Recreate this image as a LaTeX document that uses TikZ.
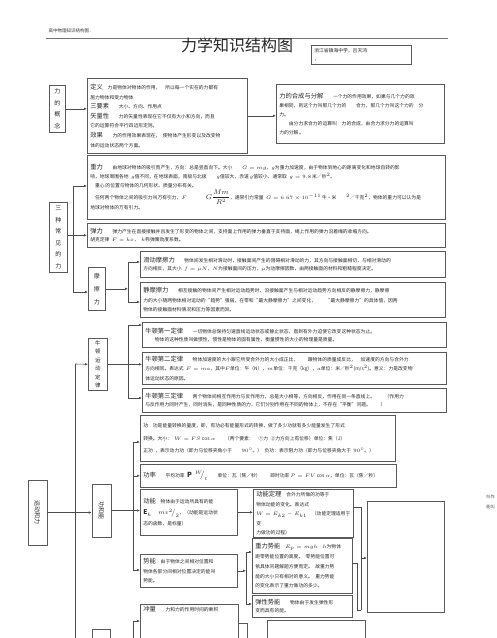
\documentclass[tikz,border=0pt]{standalone}
\usepackage{amsmath}
\usepackage{fontspec}
\setmainfont{Noto Sans CJK SC}
\usepackage{tikz}
\usetikzlibrary{arrows.meta, positioning}
\XeTeXlinebreaklocale "zh"
\XeTeXlinebreakskip = 0pt plus 1pt
\newcommand{\biaoti}[1]{{\fontsize{6.3}{8}\selectfont #1}}

\begin{document}
\begin{tikzpicture}[x=1pt, y=-1pt, >={Latex[length=3pt,width=2.6pt]},
    kuang/.style={draw=black!65, line width=0.6pt, anchor=north west, inner xsep=3pt, inner ysep=2pt,
                  align=left, text=black!85, font=\fontsize{4.8}{8}\selectfont},
    shukuang/.style={draw=black!65, line width=0.6pt, anchor=north west, inner sep=0pt,
                  align=center, text=black!85, font=\fontsize{6}{11.5}\selectfont},
    lianxian/.style={draw=black!70, line width=0.6pt}]
    \useasboundingbox (0,0) rectangle (496,638);

    % Header
    \node[anchor=west, text=black!80, font=\fontsize{4.5}{5}\selectfont] (yemei) at (45,31) {高中物理知识结构图．};
    \draw[black!55, line width=0.5pt] (46,38) -- (448,38);
    \node[text=black!85, font=\fontsize{16}{18}\selectfont] (biaoti) at (237,45) {力学知识结构图};
    \node[kuang, minimum width=100pt, minimum height=19pt, text width=94pt] (zuozhe) at (311,45) {浙江省镇海中学，吕天鸿\\，};

    % 力的概念
    \node[shukuang, minimum width=16pt, minimum height=47pt] (gainian) at (49,85) {力\\的\\概\\念};
    \node[kuang, minimum width=160pt, minimum height=75pt, text width=154pt, font=\fontsize{4.8}{9.6}\selectfont] (dingyi) at (87,78)
        {\biaoti{定义}\quad 力是物体对物体的作用，\quad 所以每一个实在的力都有\\
         施力物体和受力物体\\
         \biaoti{三要素}\qquad 大小、方向、作用点\\
         \biaoti{矢量性}\qquad 力的矢量性表现在它不仅有大小和方向，而且\\
         它的运算符合平行四边形定则。\\
         \biaoti{效果}\qquad 力的作用效果表现在，\enspace 使物体产生形变以及改变物\\
         体的运动状态两个方面。};
    \node[kuang, minimum width=168pt, minimum height=59pt, text width=162pt, font=\fontsize{4.8}{9}\selectfont] (hecheng) at (276,84)
        {\biaoti{力的合成与分解}\qquad 一个力的作用效果，如果与几个力的效\\
         果相同，则这个力叫那几个力的\qquad 合力，那几个力叫这个力的\quad 分\\
         力。\\
         \qquad 由分力求合力的运算叫\quad 力的合成，由合力求分力的运算叫\\
         力的分解\,。};

    % 三种常见的力
    \node[shukuang, minimum width=18pt, minimum height=70pt] (sanzhong) at (49,202) {三\\种\\常\\见\\的\\力};
    \node[kuang, minimum width=358pt, minimum height=64pt, text width=352pt, font=\fontsize{4.8}{9}\selectfont] (zhongli) at (87,155)
        {\biaoti{重力}\qquad 由地球对物体的吸引而产生，方向：总是竖直向下。大小\qquad $G=mg$，$g$为重力加速度，由于物体到地心的距离变化和地球自转的影\\
         响，地球周围各地\enspace $g$值不同，在地球表面，南极与北极\qquad $g$值较大，赤道\,$g$值较小，通常取\enspace $g=9.8$\,米／秒$^2$。\\
         \quad 重心\,的位置与物体的几何形状、质量分布有关。\\
         \quad 任何两个物体之间的吸引力叫万有引力，$F$\qquad\qquad {\fontsize{7}{8}\selectfont$G\dfrac{Mm}{R^2}$}，通常引力常量\enspace $G=6.67\times10^{-11}$\,牛·米\qquad $^2$／千克$^2$，物体的重力可以认为是\\
         地球对物体的万有引力。};
    \node[kuang, minimum width=358pt, minimum height=24pt, text width=352pt] (tanli) at (87,223)
        {\biaoti{弹力}\qquad 弹力产生在直接接触并且发生了形变的物体之间，支持面上作用的弹力垂直于支持面，绳上作用的弹力沿着绳的收缩方向。\\
         胡克定律\enspace $F=kx$，\enspace $k$称弹簧劲度系数。};

    % 摩擦力
    \node[shukuang, minimum width=17pt, minimum height=43pt, font=\fontsize{6}{13}\selectfont] (mocali) at (88,267) {摩\\擦\\力};
    \node[kuang, minimum width=305pt, minimum height=26pt, text width=299pt] (huadong) at (140,251)
        {\biaoti{滑动摩擦力}\qquad 物体间发生相对滑动时，接触面间产生的阻碍相对滑动的力，其方向与接触面相切，与相对滑动的\\
         方向相反，其大小\enspace $f=\mu N$，$N$为接触面间的压力，$\mu$为动摩擦因数，由两接触面的材料和粗糙程度决定。};
    \node[kuang, minimum width=305pt, minimum height=35pt, text width=299pt, font=\fontsize{4.8}{9.5}\selectfont] (jingmoca) at (140,282)
        {\biaoti{静摩擦力}\qquad 相互接触的物体间产生相对运动趋势时，沿接触面产生与相对运动趋势方向相反的静摩擦力，静摩擦\\
         力的大小随两物体相对运动的“趋势”强弱，在零和“最大静摩擦力”之间变化，\qquad “最大静摩擦力”的具体值，因两\\
         物体的接触面材料情况和压力等因素而异。};

    % 牛顿运动定律
    \node[shukuang, minimum width=19pt, minimum height=52pt, font=\fontsize{5.5}{8.5}\selectfont] (niudun) at (88,338) {牛\\顿\\运\\动\\定\\律};
    \node[kuang, minimum width=304pt, minimum height=25pt, text width=298pt] (niuyi) at (142,322)
        {\biaoti{牛顿第一定律}\qquad 一切物体总保持匀速直线运动状态或静止状态，直到有外力迫使它改变这种状态为止。\\
         \qquad 物体的这种性质叫做惯性，惯性是物体的固有属性，衡量惯性的大小的物理量是质量。};
    \node[kuang, minimum width=304pt, minimum height=32pt, text width=298pt, font=\fontsize{4.8}{9.5}\selectfont] (niuer) at (142,352)
        {\biaoti{牛顿第二定律}\qquad 物体加速度的大小跟它所受合外力的大小成正比，\qquad 跟物体的质量成反比，\quad 加速度的方向与合外力\\
         方向相同。表达式\enspace $F=ma$，其中$F$单位：牛（N），$m$单位：千克（kg），$a$单位：米／秒$^2$(m/s$^2$)。意义：力是改变物\\
         体运动状态的原因。};
    \node[kuang, minimum width=304pt, minimum height=24pt, text width=298pt] (niusan) at (142,388)
        {\biaoti{牛顿第三定律}\qquad 两个物体间相互作用力与反作用力，总是大小相等，方向相反，作用在同一条直线上。\qquad（作用力\\
         与反作用力同时产生，同时消失，是同种性质的力，它们分别作用在不同的物体上，不存在“平衡”问题。\qquad ）};

    % 功和能
    \node[kuang, minimum width=255pt, minimum height=46pt, text width=249pt, font=\fontsize{4.8}{12.5}\selectfont] (gong) at (140,415)
        {功\quad 功是能量转换的量度，即，有功必有能量形式的转换，做了多少功就有多少能量发生了形式\\
         转换。大小：\enspace $W=FS\cos\alpha$\qquad（两个要素：\quad ①力\enspace ②力方向上有位移）单位：焦（J）\\
         正功\enspace ，表示动力功（即力与位移夹角小于\qquad $90^\circ$。）\enspace 负功：表示阻力功（即力与位移夹角大于\enspace $90^\circ$。）};
    \node[kuang, minimum width=256pt, minimum height=23pt, text width=250pt] (gonglv) at (140,464)
        {\biaoti{功率}\qquad 平均功率\enspace {\fontsize{7}{8}\selectfont$\mathbf{P}\ \ {}^{W}\!\!\big/_{t}$}\qquad 单位：瓦（焦／秒）\qquad 即时功率\,$P=FV\cos\alpha$，单位：瓦（焦／秒）};
    \node[kuang, minimum width=97pt, minimum height=46pt, text width=91pt, font=\fontsize{4.8}{11}\selectfont] (dongneng) at (140,489)
        {\biaoti{动能}\quad 物体由于运动所具有的能\\
         {\fontsize{6.5}{8}\selectfont$\mathbf{E}_{k}\quad mv^2\!\big/_{2}$}，（动能是运动状\\
         态的函数，是标量）};
    \node[kuang, minimum width=100pt, minimum height=46pt, text width=94pt, font=\fontsize{4.8}{9.5}\selectfont] (dingli) at (253,489)
        {\biaoti{动能定理}\quad 合外力所做的功等于\\
         物体动能的变化。表达式\\
         $W=E_{k2}-E_{k1}$\quad（动能定理适用于变\\
         力做功的过程）};
    \node[kuang, minimum width=97pt, minimum height=33pt, text width=91pt, font=\fontsize{4.8}{9.5}\selectfont] (shineng) at (140,554)
        {\biaoti{势能}\quad 由于物体之间相对位置和\\
         物体各部分间相对位置决定的能叫\\
         势能。};
    \node[kuang, minimum width=100pt, minimum height=55pt, text width=94pt, font=\fontsize{4.8}{9.8}\selectfont] (zhongshi) at (252,538)
        {\biaoti{重力势能}\quad $E_p=mgh$\quad $h$为物体\\
         距零势能位置的高度。\enspace 零势能位置可\\
         依具体问题解题方便而定。\enspace 故重力势\\
         能的大小只有相对的意义。\enspace 重力势能\\
         的变化表示了重力做功的多少。};
    \node[kuang, minimum width=100pt, minimum height=22pt, text width=94pt] (tanshi) at (252,595)
        {\biaoti{弹性势能}\qquad 物体由于发生弹性形\\
         变而具有的能。};
    \node[kuang, minimum width=77pt, minimum height=111pt] (kong1) at (367,501) {};

    % 运动和力 / 功和能 (rotated: north side faces right)
    \node[shukuang, anchor=center, rotate=-90, minimum width=65pt, minimum height=19pt] (yundong) at (37.5,512.5) {运动和力};
    \node[shukuang, anchor=center, rotate=-90, minimum width=53pt, minimum height=19pt] (gongneng) at (101.5,510.5) {功和能};

    % 动量
    \node[kuang, minimum width=47pt, minimum height=40pt] (kong2) at (200,623) {};
    \node[kuang, fill=white, minimum width=98pt, minimum height=42pt, text width=92pt, text depth=34pt] (chongliang) at (140,604)
        {\biaoti{冲量}\qquad 力和力的作用时间的乘积};
    \node[kuang, minimum width=98pt, minimum height=40pt] (kong3) at (267,620) {};
    \node[shukuang, minimum width=18pt, minimum height=30pt] (dongliang) at (92,629) {};

    % Right edge
    \node[anchor=east, inner sep=0pt, text=black!70, font=\fontsize{4.2}{5}\selectfont] (youzi1) at (495,497) {叫作};
    \node[anchor=east, inner sep=0pt, text=black!70, font=\fontsize{4.2}{5}\selectfont] (youzi2) at (495,507) {能叫};

    % Connectors: 力的概念
    \draw[lianxian, ->] (gainian.east) -- (gainian.east -| dingyi.west);
    \draw[lianxian, ->] (dingyi.east) -- (dingyi.east -| hecheng.west);

    % Connectors: 三种常见的力
    \coordinate (s1) at (73,186);
    \coordinate (s2) at (73,292);
    \draw[lianxian] (s1) -- (s2);
    \draw[lianxian, ->] (s1) -- (s1 -| zhongli.west);
    \draw[lianxian, ->] (s2) -- (s2 -| mocali.west);
    \draw[lianxian, ->] (sanzhong.east |- tanli.west) -- (tanli.west);

    % Connectors: 摩擦力
    \coordinate (m1) at (128,262);
    \coordinate (m2) at (128,302);
    \draw[lianxian] (m1) -- (m2);
    \draw[lianxian, ->] (mocali.east) -- (mocali.east -| m1);
    \draw[lianxian, ->] (m1) -- (m1 -| huadong.west);
    \draw[lianxian, ->] (m2) -- (m2 -| jingmoca.west);

    % Connectors: 牛顿运动定律
    \coordinate (n1) at (128,325);
    \coordinate (n2) at (128,398);
    \draw[lianxian] (n1) -- (n2);
    \draw[lianxian, ->] (n1) -- (n1 -| niuyi.west);
    \draw[lianxian, ->] (n2) -- (n2 -| niusan.west);
    \draw[lianxian, ->] (niudun.east) -- (niudun.east -| niuer.west);

    % Connectors: main trunk
    \coordinate (z1) at (75,364);
    \coordinate (z2) at (75,640);
    \draw[lianxian] (z1) -- (z2);
    \draw[lianxian, ->] (z1) -- (niudun.west);
    \draw[lianxian, ->] (yundong.north) -- (yundong.north -| gongneng.south);

    % Connectors: 功和能
    \coordinate (g1) at (133,442);
    \coordinate (g2) at (133,570);
    \draw[lianxian] (g1) -- (g2);
    \draw[lianxian, ->] (g1) -- (g1 -| gong.west);
    \draw[lianxian, ->] (g1 |- gonglv.west) -- (gonglv.west);
    \draw[lianxian, ->] (gongneng.north) -- (gongneng.north -| dongneng.west);
    \draw[lianxian, ->] (g2) -- (g2 -| shineng.west);
    \draw[lianxian, ->] (dongneng.east) -- (dongneng.east -| dingli.west);

    % Connectors: 势能
    \coordinate (p1) at (246,552);
    \coordinate (p2) at (246,604);
    \draw[lianxian] (p1) -- (p2);
    \draw[lianxian, ->] (shineng.east) -- (shineng.east -| p1);
    \draw[lianxian, ->] (p1) -- (p1 -| zhongshi.west);
    \draw[lianxian, ->] (p2) -- (p2 -| tanshi.west);

    % Connectors: right bracket
    \coordinate (r1) at (361,507);
    \coordinate (r2) at (361,610);
    \coordinate (r3) at (357,563);
    \coordinate (r4) at (357,610);
    \coordinate (r5) at (361,558);
    \draw[lianxian] (dingli.east |- r1) -- (r1) -- (r2);
    \draw[lianxian] (zhongshi.east |- r3) -- (r3) -- (r4) -- (r2);
    \draw[lianxian, ->] (r5) -- (r5 -| kong1.west);

    % Connectors: 动量
    \coordinate (d1) at (133,621);
    \coordinate (d2) at (133,640);
    \draw[lianxian] (d1) -- (d2);
    \draw[lianxian, ->] (d1) -- (d1 -| chongliang.west);
\end{tikzpicture}
\end{document}
